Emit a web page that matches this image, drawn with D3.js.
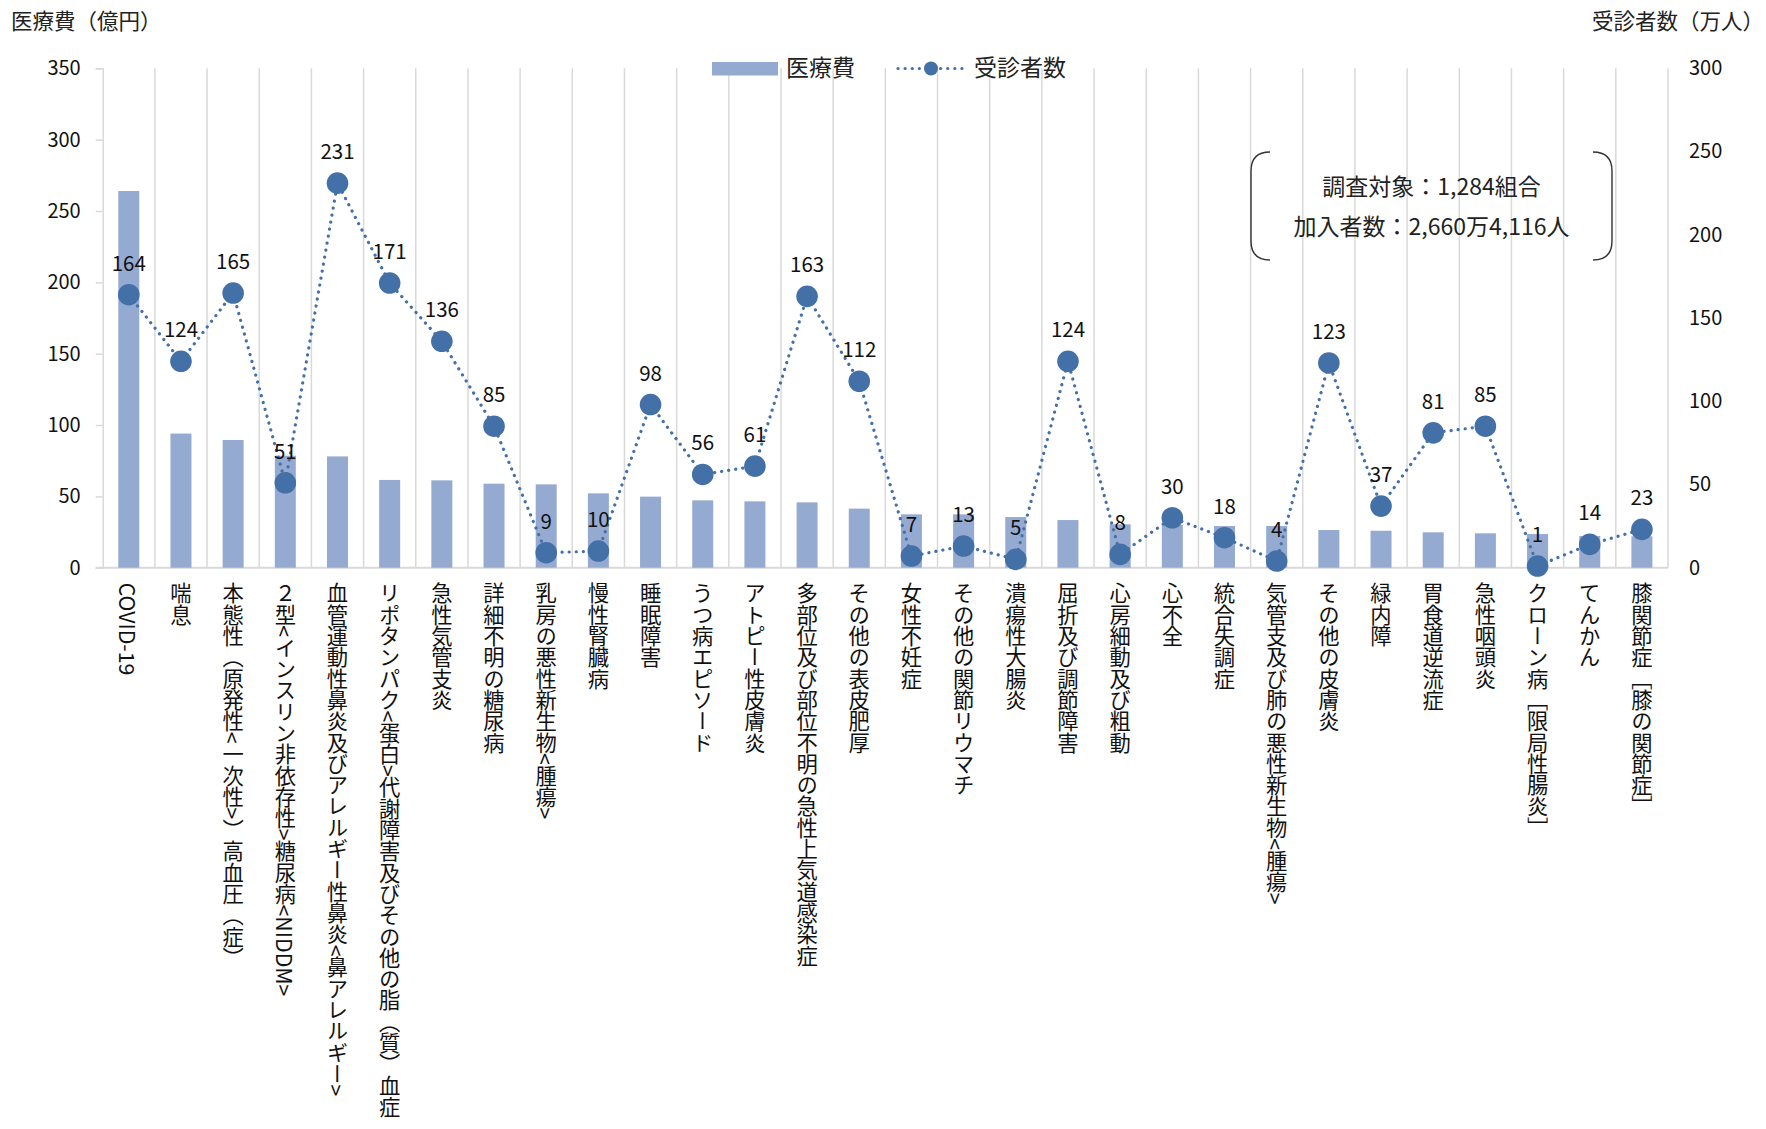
<!DOCTYPE html>
<html>
<head>
<meta charset="utf-8">
<script src="https://cdn.jsdelivr.net/npm/d3@7"></script>
<style>
  body { margin: 0; background: #fff; }
  svg { display: block; font-family: "Noto Sans CJK JP", "Noto Sans", sans-serif; }
</style>
</head>
<body>
<svg></svg>
<script>
// chart data
const categories = [
  "COVID-19", "喘息", "本態性（原発性<一次性>）高血圧（症）",
  "２型<インスリン非依存性>糖尿病<NIDDM>",
  "血管運動性鼻炎及びアレルギー性鼻炎<鼻アレルギー>",
  "リポタンパク<蛋白>代謝障害及びその他の脂（質）血症",
  "急性気管支炎", "詳細不明の糖尿病", "乳房の悪性新生物<腫瘍>", "慢性腎臓病",
  "睡眠障害", "うつ病エピソード", "アトピー性皮膚炎",
  "多部位及び部位不明の急性上気道感染症", "その他の表皮肥厚", "女性不妊症",
  "その他の関節リウマチ", "潰瘍性大腸炎", "屈折及び調節障害", "心房細動及び粗動",
  "心不全", "統合失調症", "気管支及び肺の悪性新生物<腫瘍>", "その他の皮膚炎",
  "緑内障", "胃食道逆流症", "急性咽頭炎", "クローン病［限局性腸炎］", "てんかん",
  "膝関節症［膝の関節症］"
];
// 医療費（億円）
const costs = [264, 94, 89.5, 78.5, 78, 61.5, 61.2, 58.9, 58.4, 52.1,
  49.8, 47.2, 46.5, 45.8, 41.4, 37.4, 37.4, 35.5, 33.4, 30.4,
  30, 29.2, 29.2, 26.4, 25.9, 24.8, 24.1, 23.6, 22.2, 22];
// 受診者数（万人）
const patients = [164, 124, 165, 51, 231, 171, 136, 85, 9, 10,
  98, 56, 61, 163, 112, 7, 13, 5, 124, 8,
  30, 18, 4, 123, 37, 81, 85, 1, 14, 23];
const leftTicks = [0, 50, 100, 150, 200, 250, 300, 350];
const rightTicks = [0, 50, 100, 150, 200, 250, 300];
const noteLines = ["調査対象：1,284組合", "加入者数：2,660万4,116人"];

const width = 1766, height = 1129;
const plot = { left: 102.7, right: 1668, top: 68.3, bottom: 567.7 };
const barColor = "#95aad1", dotColor = "#4470a8", gridColor = "#d9d9d9";

const svg = d3.select("svg").attr("width", width).attr("height", height);

const x = d3.scaleBand().domain(categories).range([plot.left, plot.right]);
const yLeft = d3.scaleLinear().domain([0, 350]).range([plot.bottom, plot.top]);
const yRight = d3.scaleLinear().domain([0, 300]).range([plot.bottom, plot.top]);
const cx = d => x(d) + x.bandwidth() / 2;

// vertical grid lines between categories
svg.append("g")
  .selectAll("line")
  .data(categories)
  .join("line")
  .attr("x1", d => x(d) + x.bandwidth())
  .attr("x2", d => x(d) + x.bandwidth())
  .attr("y1", plot.top).attr("y2", plot.bottom)
  .attr("stroke", gridColor).attr("stroke-width", 1.5);

// left axis
const leftAxis = svg.append("g")
  .attr("transform", `translate(${plot.left},0)`)
  .call(d3.axisLeft(yLeft).tickValues(leftTicks).tickSize(7).tickPadding(15));
leftAxis.select(".domain").attr("stroke", gridColor).attr("stroke-width", 1.5);
leftAxis.selectAll(".tick line").attr("stroke", gridColor).attr("stroke-width", 1.5);
leftAxis.selectAll("text").attr("font-size", 20).attr("fill", "#111")
  .attr("font-family", "Noto Sans CJK JP");

// right axis
const rightAxis = svg.append("g")
  .attr("transform", `translate(${plot.right},0)`)
  .call(d3.axisRight(yRight).tickValues(rightTicks).tickSize(0).tickPadding(21));
rightAxis.select(".domain").remove();
rightAxis.selectAll("text").attr("font-size", 20).attr("fill", "#111")
  .attr("font-family", "Noto Sans CJK JP");

// baseline
svg.append("line")
  .attr("x1", plot.left - 7).attr("x2", plot.right)
  .attr("y1", plot.bottom).attr("y2", plot.bottom)
  .attr("stroke", gridColor).attr("stroke-width", 2);

// bars
const barW = 21;
svg.append("g")
  .selectAll("rect")
  .data(costs)
  .join("rect")
  .attr("x", (d, i) => cx(categories[i]) - barW / 2)
  .attr("y", d => yLeft(d))
  .attr("width", barW)
  .attr("height", d => plot.bottom - yLeft(d))
  .attr("fill", barColor);

// dotted line
const line = d3.line()
  .x((d, i) => cx(categories[i]))
  .y(d => yRight(d));
svg.append("path")
  .datum(patients)
  .attr("d", line)
  .attr("fill", "none")
  .attr("stroke", dotColor)
  .attr("stroke-width", 3.2)
  .attr("stroke-linecap", "round")
  .attr("stroke-dasharray", "0.1 7");

svg.append("g")
  .selectAll("circle")
  .data(patients)
  .join("circle")
  .attr("cx", (d, i) => cx(categories[i]))
  .attr("cy", d => yRight(d))
  .attr("r", 10.8)
  .attr("fill", dotColor);

// data labels
svg.append("g")
  .selectAll("text")
  .data(patients)
  .join("text")
  .attr("x", (d, i) => cx(categories[i]))
  .attr("y", d => yRight(d) - 24)
  .attr("text-anchor", "middle")
  .attr("font-size", 20.5)
  .attr("fill", "#111")
  .text(d => d);

// category labels (vertical writing)
svg.append("g")
  .selectAll("text")
  .data(categories)
  .join("text")
  .attr("x", d => cx(d))
  .attr("y", plot.bottom + 15)
  .style("writing-mode", "vertical-rl")
  .style("text-orientation", "mixed")
  .attr("font-size", 21.3)
  .attr("fill", "#111")
  .text(d => d);

// axis titles
svg.append("text")
  .attr("x", 11).attr("y", 29)
  .attr("font-size", 21.5).attr("fill", "#222")
  .text("医療費（億円）");
svg.append("text")
  .attr("x", 1764).attr("y", 29)
  .attr("text-anchor", "end")
  .attr("font-size", 21.5).attr("fill", "#222")
  .text("受診者数（万人）");

// legend
const legend = svg.append("g");
legend.append("rect")
  .attr("x", 712).attr("y", 62).attr("width", 66).attr("height", 13.5)
  .attr("fill", barColor);
legend.append("text")
  .attr("x", 786).attr("y", 76)
  .attr("font-size", 23).attr("fill", "#222")
  .text("医療費");
legend.append("line")
  .attr("x1", 898).attr("x2", 965).attr("y1", 68.5).attr("y2", 68.5)
  .attr("stroke", dotColor).attr("stroke-width", 3.2)
  .attr("stroke-linecap", "round").attr("stroke-dasharray", "0.1 7");
legend.append("circle")
  .attr("cx", 931).attr("cy", 68.5).attr("r", 7)
  .attr("fill", dotColor);
legend.append("text")
  .attr("x", 974).attr("y", 76)
  .attr("font-size", 23).attr("fill", "#222")
  .text("受診者数");

// note box with rounded brackets
const bx0 = 1251, bx1 = 1612, by0 = 152, by1 = 260, r = 19;
const note = svg.append("g");
note.append("path")
  .attr("d", `M${bx0 + r},${by0} Q${bx0},${by0} ${bx0},${by0 + r} L${bx0},${by1 - r} Q${bx0},${by1} ${bx0 + r},${by1}`)
  .attr("fill", "none").attr("stroke", "#333").attr("stroke-width", 1.4);
note.append("path")
  .attr("d", `M${bx1 - r},${by0} Q${bx1},${by0} ${bx1},${by0 + r} L${bx1},${by1 - r} Q${bx1},${by1} ${bx1 - r},${by1}`)
  .attr("fill", "none").attr("stroke", "#333").attr("stroke-width", 1.4);
note.selectAll("text")
  .data(noteLines)
  .join("text")
  .attr("x", (bx0 + bx1) / 2)
  .attr("y", (d, i) => 195 + i * 40)
  .attr("text-anchor", "middle")
  .attr("font-size", 23)
  .attr("fill", "#222")
  .text(d => d);
</script>
</body>
</html>
